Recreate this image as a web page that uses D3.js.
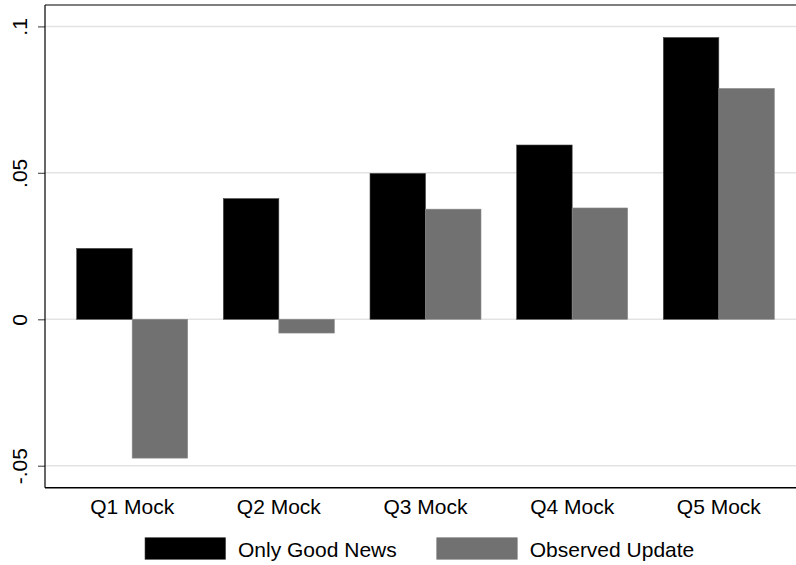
<!DOCTYPE html>
<html><head><meta charset="utf-8">
<script src="https://cdn.jsdelivr.net/npm/d3@7"></script>
<style>body{margin:0;background:#fff}svg{display:block}text{font-family:"Liberation Sans",Arial,Helvetica,sans-serif;fill:#000}</style>
</head><body>
<svg id="c" width="796" height="565"></svg>
<script>
const categories = ["Q1 Mock","Q2 Mock","Q3 Mock","Q4 Mock","Q5 Mock"];
const seriesNames = ["Only Good News","Observed Update"];
const onlyGoodNews = [0.0242, 0.0412, 0.0498, 0.0595, 0.0962];
const observedUpdate = [-0.0474, -0.0047, 0.0376, 0.0380, 0.0788];
const yTicks = [-0.05, 0, 0.05, 0.1];
const yTickLabels = ["-.05","0",".05",".1"];
const colors = ["#000000","#717171"];

(function() {
const svg = d3.select("#c");
const pL = 45, pR = 806, pT = 5, pB = 487.7;
const y = d3.scaleLinear().domain([-0.0575, 0.1073]).range([pB, pT]);
const x0 = d3.scaleBand().domain(categories).range([pL, pR])
  .paddingInner(35.7/146.7).paddingOuter(31.7/146.7);
const x1 = d3.scaleBand().domain(seriesNames).range([0, x0.bandwidth()]).padding(0);

// gridlines
svg.append("g").selectAll("line").data(yTicks).join("line")
  .attr("x1", pL).attr("x2", pR)
  .attr("y1", d => y(d)).attr("y2", d => y(d))
  .attr("stroke", "#e3e3e3").attr("stroke-width", 1.5);

// top border
svg.append("line").attr("x1", pL).attr("x2", pR).attr("y1", pT).attr("y2", pT)
  .attr("stroke", "#555").attr("stroke-width", 1.5);

// bars
const data = categories.map((c, i) => ({c, vals: [onlyGoodNews[i], observedUpdate[i]]}));
const g = svg.append("g").selectAll("g").data(data).join("g")
  .attr("transform", d => `translate(${x0(d.c)},0)`);
g.selectAll("rect").data(d => d.vals.map((v, j) => ({v, s: seriesNames[j], j}))).join("rect")
  .attr("x", d => x1(d.s)).attr("width", x1.bandwidth())
  .attr("y", d => Math.min(y(d.v), y(0))).attr("height", d => Math.abs(y(d.v) - y(0)))
  .attr("fill", d => colors[d.j])
  .attr("stroke", d => d.j === 0 ? "#444" : "#8a8a8a").attr("stroke-width", 0.6);

// y axis
const yAxis = d3.axisLeft(y).tickValues(yTicks).tickFormat((d, i) => yTickLabels[i]).tickSize(7).tickPadding(0);
const ya = svg.append("g").attr("transform", `translate(${pL},0)`).call(yAxis);
ya.select(".domain").remove();
ya.append("line").attr("x1", 0).attr("x2", 0).attr("y1", pT).attr("y2", pB).attr("stroke", "#000").attr("stroke-width", 1.2);
ya.selectAll(".tick line").attr("stroke", "#555").attr("stroke-width", 1.2);
ya.selectAll(".tick text").attr("font-size", 21).attr("text-anchor", "middle")
  .attr("transform", "rotate(-90)").attr("x", 0).attr("dy", null)
  .attr("y", -18).style("fill", "#000");

// x axis
svg.append("line").attr("x1", pL).attr("x2", pR).attr("y1", pB).attr("y2", pB)
  .attr("stroke", "#000").attr("stroke-width", 1.5);
const xAxis = d3.axisBottom(x0).tickSize(0).tickPadding(0);
const xa = svg.append("g").attr("transform", `translate(0,${pB})`).call(xAxis);
xa.select(".domain").remove();
xa.selectAll(".tick text").attr("font-size", 21).attr("dy", null).attr("y", 26).style("fill", "#000");

// legend
const legX = [145, 436.7];
const lg = svg.append("g").selectAll("g").data(seriesNames).join("g");
lg.append("rect").attr("x", (d, i) => legX[i]).attr("y", 537.7).attr("width", 80.6).attr("height", 21.6)
  .attr("fill", (d, i) => colors[i]).attr("stroke", (d, i) => i === 0 ? "#444" : "#8a8a8a").attr("stroke-width", 0.6);
lg.append("text").attr("x", (d, i) => legX[i] + 93).attr("y", 557)
  .attr("font-size", 21).text(d => d);
})();
</script>
</body></html>
